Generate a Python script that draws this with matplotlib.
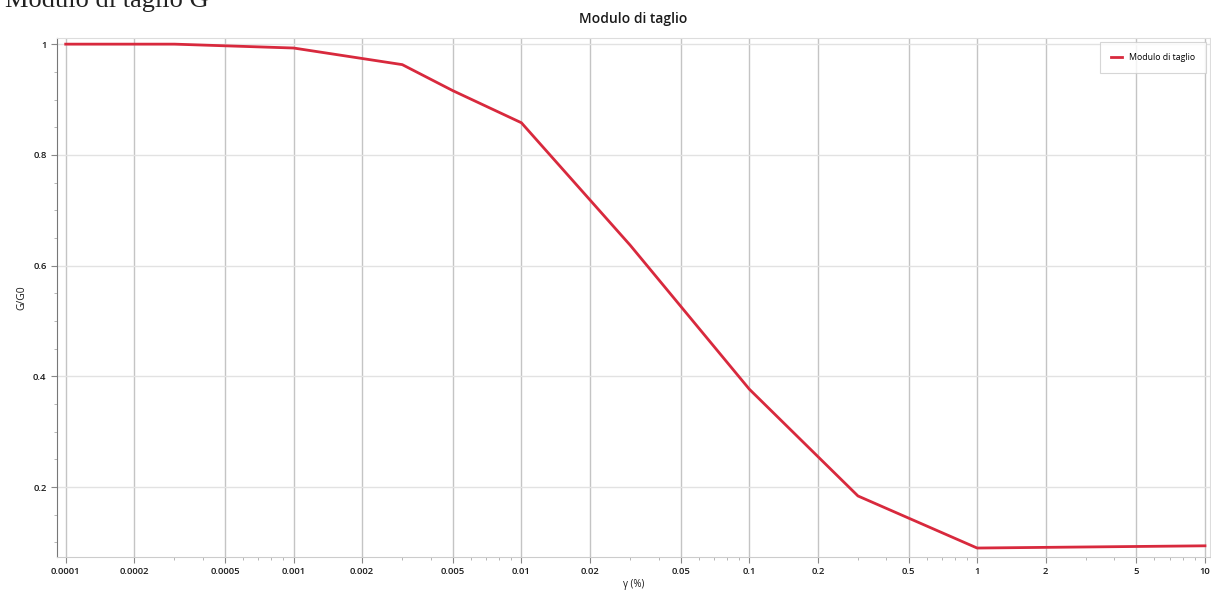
import matplotlib.pyplot as plt
from matplotlib.ticker import FixedLocator, NullFormatter

# dati
gamma = [0.0001, 0.0003, 0.0005, 0.001, 0.003, 0.005, 0.01, 0.03, 0.1, 0.3, 1, 10]
g_g0 = [1.0, 1.0, 0.997, 0.993, 0.963, 0.916, 0.858, 0.637, 0.377, 0.184, 0.09, 0.094]

xticks = [0.0001, 0.0002, 0.0005, 0.001, 0.002, 0.005, 0.01, 0.02, 0.05,
          0.1, 0.2, 0.5, 1, 2, 5, 10]
xtick_labels = ["0.0001", "0.0002", "0.0005", "0.001", "0.002", "0.005", "0.01",
                "0.02", "0.05", "0.1", "0.2", "0.5", "1", "2", "5", "10"]
yticks = [0.2, 0.4, 0.6, 0.8, 1.0]
ytick_labels = ["0.2", "0.4", "0.6", "0.8", "1"]

plt.rcParams['font.family'] = ['Open Sans', 'DejaVu Sans']

fig = plt.figure(figsize=(12.11, 6.04), dpi=100)
ax = fig.add_axes([0.047, 0.078, 0.952, 0.859])

ax.plot(gamma, g_g0, color="#d8293d", lw=2.0, label="Modulo di taglio", zorder=3)

ax.set_xscale("log")
ax.set_xlim(0.0000915, 10.5)
ax.set_ylim(0.074, 1.011)

ax.xaxis.set_major_locator(FixedLocator(xticks))
ax.set_xticklabels(xtick_labels)
minor = []
for dec in [0.0001, 0.001, 0.01, 0.1, 1]:
    for m in [3, 4, 6, 7, 8, 9]:
        minor.append(dec * m)
ax.xaxis.set_minor_locator(FixedLocator(minor))
ax.xaxis.set_minor_formatter(NullFormatter())

ax.set_yticks(yticks)
ax.set_yticklabels(ytick_labels)
ax.set_yticks([0.1, 0.15, 0.25, 0.3, 0.35, 0.45, 0.5, 0.55, 0.65, 0.7, 0.75,
               0.85, 0.9, 0.95], minor=True)

ax.grid(True, which="major", axis="x", color="#c4c4c4", lw=1.0)
ax.grid(True, which="major", axis="y", color="#e2e2e2", lw=1.0)
ax.tick_params(axis="both", which="major", labelsize=6.8, colors="#888888",
               labelcolor="#1a1a1a", length=4, width=0.8)
ax.tick_params(axis="both", which="minor", length=2, color="#aaaaaa")
for t in ax.get_xticklabels() + ax.get_yticklabels():
    t.set_fontweight("semibold")

for s in ["top", "right"]:
    ax.spines[s].set_color("#dddddd")
ax.spines["left"].set_color("#777777")
ax.spines["bottom"].set_color("#cccccc")

ax.set_title("Modulo di taglio", fontsize=10, fontweight="semibold", pad=11,
             color="#1a1a1a")
ax.set_xlabel("γ (%)", fontsize=7, labelpad=2, color="#1a1a1a")
ax.set_ylabel("G/G0", fontsize=7.5, labelpad=4, color="#1a1a1a")

leg = ax.legend(loc="upper right", fontsize=6.3, frameon=True, fancybox=False,
                handlelength=1.2, borderpad=1.3, borderaxespad=0.4)
leg.get_frame().set_edgecolor("#cccccc")
leg.get_frame().set_linewidth(0.8)

# intestazione del documento, tagliata in alto come nell'originale
fig.text(0.004, 0.989, "Modulo di taglio G", fontsize=19, family="Liberation Serif",
         color="#222222", va="baseline")

plt.savefig("out.png", dpi=100)
